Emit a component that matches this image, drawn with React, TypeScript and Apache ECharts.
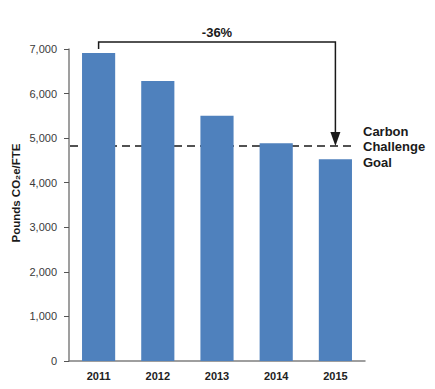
import React, { useEffect, useRef } from "react";
import * as echarts from "echarts";

const years = ["2011", "2012", "2013", "2014", "2015"];
const pounds = [6910, 6280, 5500, 4885, 4525];
const goal = 4824;
const yTicks = { min: 0, max: 7000, interval: 1000 };
const changeLabel = "-36%";
const goalLabel = "Carbon\nChallenge\nGoal";
const yTitle = "Pounds CO₂e/FTE";

const FONT = "'Liberation Sans', Arial, sans-serif";

export default function App() {
  const ref = useRef<HTMLDivElement>(null);
  useEffect(() => {
    document.body.style.margin = "0";
    const chart = echarts.init(ref.current!, null, { renderer: "svg" });
    chart.setOption({
      animation: false,
      backgroundColor: "#ffffff",
      grid: { left: 69, right: 70, top: 49, bottom: 28 },
      xAxis: {
        type: "category",
        data: years,
        axisLine: { lineStyle: { color: "#7f7f7f", width: 1.5 } },
        axisTick: { show: false },
        axisLabel: {
          color: "#222",
          fontWeight: "bold",
          fontSize: 11,
          fontFamily: FONT,
          margin: 9,
        },
      },
      yAxis: {
        type: "value",
        min: yTicks.min,
        max: yTicks.max,
        interval: yTicks.interval,
        axisLine: { show: true, lineStyle: { color: "#7f7f7f", width: 1.5 } },
        axisTick: { show: true, length: 5, lineStyle: { color: "#555" } },
        splitLine: { show: false },
        axisLabel: {
          color: "#3a3a3a",
          fontSize: 11,
          fontFamily: FONT,
          margin: 12,
          formatter: (v: number) => v.toLocaleString("en-US"),
        },
      },
      series: [
        {
          type: "bar",
          data: pounds,
          barWidth: "56%",
          itemStyle: { color: "#4f81bd" },
        },
      ],
    });

    const p0 = chart.convertToPixel({ seriesIndex: 0 }, [0, pounds[0]]) as number[];
    const p4 = chart.convertToPixel({ seriesIndex: 0 }, [4, goal]) as number[];
    const pMid = chart.convertToPixel({ seriesIndex: 0 }, [2, goal]) as number[];
    const axisX = 69;
    const topY = p0[1] - 11;
    const goalY = p4[1];
    const lineStyle = { stroke: "#1a1a1a", lineWidth: 1.5 };

    chart.setOption({
      graphic: [
        {
          type: "line",
          shape: { x1: axisX + 1, y1: goalY, x2: p4[0] + 19, y2: goalY },
          style: { stroke: "#1a1a1a", lineWidth: 1.5, lineDash: [8, 5] },
        },
        {
          type: "polyline",
          shape: {
            points: [
              [p0[0], p0[1] - 4],
              [p0[0], topY],
              [p4[0], topY],
              [p4[0], goalY - 12],
            ],
          },
          style: { ...lineStyle, fill: null },
        },
        {
          type: "polygon",
          shape: {
            points: [
              [p4[0] - 5, goalY - 14],
              [p4[0] + 5, goalY - 14],
              [p4[0], goalY],
            ],
          },
          style: { fill: "#1a1a1a" },
        },
        {
          type: "text",
          x: pMid[0],
          y: topY - 10,
          style: {
            text: changeLabel,
            font: `bold 13px ${FONT}`,
            fill: "#1a1a1a",
            align: "center",
            verticalAlign: "middle",
          },
        },
        {
          type: "text",
          x: 363,
          y: goalY + 1,
          style: {
            text: goalLabel,
            font: `bold 13px ${FONT}`,
            lineHeight: 15.5,
            fill: "#1a1a1a",
            align: "left",
            verticalAlign: "middle",
          },
        },
        {
          type: "text",
          x: 16,
          y: 193,
          rotation: Math.PI / 2,
          style: {
            text: yTitle,
            font: `bold 11.5px ${FONT}`,
            fill: "#1a1a1a",
            align: "center",
            verticalAlign: "middle",
          },
        },
      ],
    });
    return () => chart.dispose();
  }, []);
  return (
    <div
      ref={ref}
      style={{ position: "fixed", left: 0, top: 0, width: 435, height: 389 }}
    />
  );
}
